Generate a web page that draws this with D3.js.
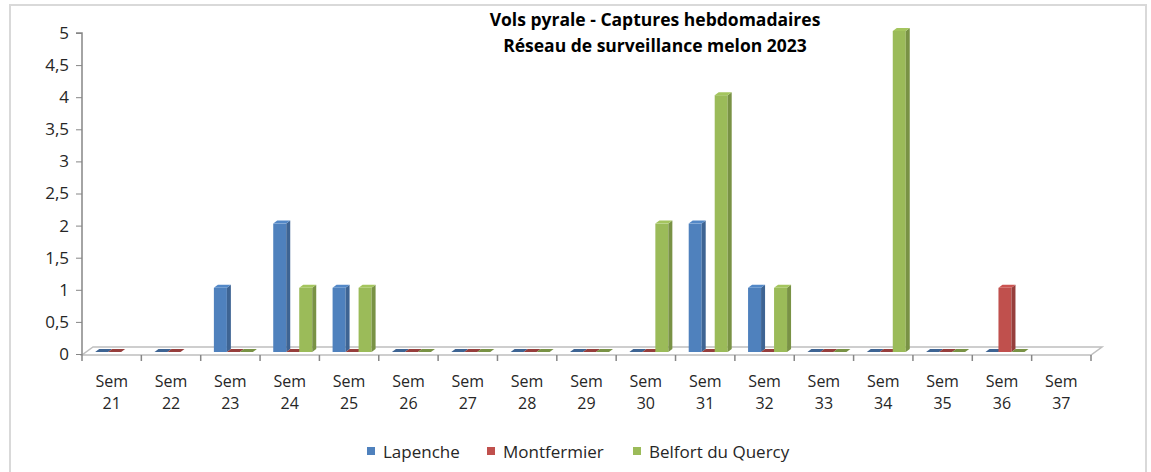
<!DOCTYPE html>
<html>
<head>
<meta charset="utf-8">
<script src="https://cdn.jsdelivr.net/npm/d3@7"></script>
<style>
  body { margin: 0; background: #fff; }
  text { font-family: "Open Sans", Lato, sans-serif; }
</style>
</head>
<body>
<div id="chart"></div>
<script>
var weeks = ["21", "22", "23", "24", "25", "26", "27", "28", "29", "30", "31", "32", "33", "34", "35", "36", "37"];
var lapenche    = [0, 0, 1, 2, 1, 0, 0, 0, 0, 0, 2, 1, 0, 0, 0, 0, null];
var montfermier = [0, 0, 0, 0, 0, 0, 0, 0, 0, 0, 0, 0, 0, 0, 0, 1, null];
var belfort     = [null, null, 0, 1, 1, 0, 0, 0, 0, 2, 4, 1, 0, 5, 0, 0, null];
var seriesNames = ["Lapenche", "Montfermier", "Belfort du Quercy"];
var seriesColors = ["#4f81bd", "#c0504d", "#9bbb59"];
var yTicks = [0, 0.5, 1, 1.5, 2, 2.5, 3, 3.5, 4, 4.5, 5];
var titleLines = ["Vols pyrale - Captures hebdomadaires", "Réseau de surveillance melon 2023"];

var W = 1151, H = 472;
var svg = d3.select("#chart").append("svg")
  .attr("width", W).attr("height", H);

svg.append("rect").attr("width", W).attr("height", H).attr("fill", "#fff");
// outer frame
svg.append("rect")
  .attr("x", 10).attr("y", 5).attr("width", 1136).attr("height", 490)
  .attr("fill", "none").attr("stroke", "#d9d9d9").attr("stroke-width", 2);

var x = d3.scaleBand().domain(weeks).range([82, 1091]);
var y = d3.scaleLinear().domain([0, 5]).range([354, 33]);

var depth = { dx: 11, dy: -8 };   // floor depth
var barW = 13, sideX = 4, sideY = 3;

// floor
var fl = y(0) + 1;
svg.append("path")
  .attr("d", "M" + x.range()[0] + "," + fl + "L" + x.range()[1] + "," + fl +
    "l" + depth.dx + "," + depth.dy + "L" + (x.range()[0] + depth.dx) + "," + (fl + depth.dy) + "Z")
  .attr("fill", "#fff").attr("stroke", "#bfbfbf").attr("stroke-width", 1.5);

// y axis
var yAxis = d3.axisLeft(y).tickValues(yTicks).tickSize(6).tickPadding(7)
  .tickFormat(function(d) { return String(d).replace(".", ","); });
var gy = svg.append("g").attr("transform", "translate(82,0)").call(yAxis);
gy.select(".domain").attr("stroke", "#868686").attr("stroke-width", 1.5).attr("d", "M-6," + y(5) + "H0V" + fl);
gy.selectAll(".tick line").attr("stroke", "#868686");
gy.selectAll(".tick text").attr("fill", "#262626").style("font-size", "17px");

// x axis ticks + labels (two lines each)
var gx = svg.append("g");
var bounds = weeks.map(function(w) { return x(w); }).concat([x.range()[1]]);
gx.selectAll("line").data(bounds).enter().append("line")
  .attr("x1", function(d) { return d; }).attr("x2", function(d) { return d; })
  .attr("y1", fl).attr("y2", fl + 6)
  .attr("stroke", "#868686").attr("stroke-width", 1.5);
var cx = function(d) { return x(d) + x.bandwidth() / 2; };
gx.selectAll(".sem").data(weeks).enter().append("text")
  .attr("class", "sem").attr("x", cx).attr("y", 387)
  .attr("text-anchor", "middle").attr("fill", "#262626").style("font-size", "16px")
  .text("Sem");
gx.selectAll(".num").data(weeks).enter().append("text")
  .attr("class", "num").attr("x", cx).attr("y", 409)
  .attr("text-anchor", "middle").attr("fill", "#262626").style("font-size", "16px")
  .text(function(d) { return d; });

// bars
var allSeries = [lapenche, montfermier, belfort];
var xs = d3.scaleBand().domain([0, 1, 2]).range([0, barW * 3]);
var shift = { dx: 3, dy: -2 };  // bars sit mid-depth

allSeries.forEach(function(vals, si) {
  var c = d3.color(seriesColors[si]);
  var front = c.formatHex(), side = c.darker(0.7).formatHex(), top = c.brighter(0.15).formatHex();
  var g = svg.append("g");
  weeks.forEach(function(w, i) {
    var v = vals[i];
    if (v === null) return;
    var x0 = x(w) + x.bandwidth() / 2 - barW * 1.5 + shift.dx + xs(si);
    var y0 = y(0) + shift.dy, y1 = y(v) + shift.dy;
    if (v > 0) {
      g.append("rect").attr("x", x0).attr("y", y1).attr("width", barW).attr("height", y0 - y1).attr("fill", front);
      g.append("path").attr("d", "M" + (x0 + barW) + "," + y1 + "l" + sideX + "," + (-sideY) +
        "V" + (y0 - sideY) + "l" + (-sideX) + "," + sideY + "Z").attr("fill", side);
    }
    g.append("path").attr("d", "M" + x0 + "," + y1 + "l" + sideX + "," + (-sideY) + "h" + barW +
      "l" + (-sideX) + "," + sideY + "Z").attr("fill", v > 0 ? top : side);
  });
});

// title
svg.selectAll(".title").data(titleLines).enter().append("text")
  .attr("x", 655).attr("y", function(d, i) { return 26 + i * 26; })
  .attr("text-anchor", "middle").attr("font-weight", "bold")
  .style("font-size", "17.5px").attr("fill", "#000").text(function(d) { return d; });

// legend
var legX = [367, 487, 633];
var lg = svg.selectAll(".leg").data(seriesNames).enter().append("g")
  .attr("transform", function(d, i) { return "translate(" + legX[i] + ",452)"; });
lg.append("rect").attr("x", 0).attr("y", -5).attr("width", 8).attr("height", 8)
  .attr("fill", function(d, i) { return seriesColors[i]; });
lg.append("text").attr("x", 16).attr("y", 6).attr("fill", "#262626").style("font-size", "17px")
  .text(function(d) { return d; });
</script>
</body>
</html>
